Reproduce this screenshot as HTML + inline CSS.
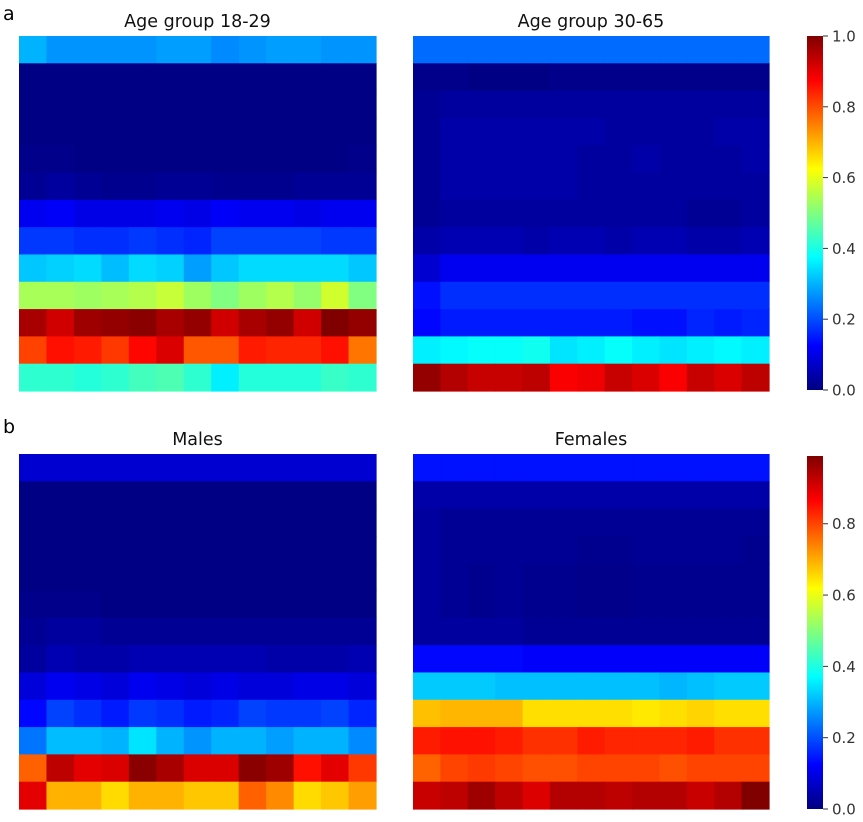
<!DOCTYPE html>
<html><head><meta charset="utf-8"><style>
body{margin:0;background:#fff;}
svg{display:block;font-family:"DejaVu Sans","Liberation Sans",sans-serif;}
</style></head><body>
<svg id="fig" width="863" height="822" viewBox="0 0 863 822" xmlns="http://www.w3.org/2000/svg">
<defs>
<linearGradient id="jet" x1="0" y1="1" x2="0" y2="0">
<stop offset="0" stop-color="#000080"/><stop offset="0.125" stop-color="#0000ff"/><stop offset="0.375" stop-color="#00ffff"/><stop offset="0.625" stop-color="#ffff00"/><stop offset="0.875" stop-color="#ff0000"/><stop offset="1" stop-color="#800000"/>
</linearGradient>
</defs>
<text x="3" y="20" font-size="19" fill="#000">a</text>
<text x="3" y="433" font-size="19" fill="#000">b</text>
</svg>
<script>
const young=[
[0.30,0.27,0.27,0.27,0.27,0.28,0.28,0.26,0.27,0.28,0.28,0.27,0.27],
[0.005,0.005,0.005,0.005,0.005,0.005,0.005,0.005,0.005,0.005,0.005,0.005,0.005],
[0.005,0.005,0.005,0.005,0.005,0.005,0.005,0.005,0.005,0.005,0.005,0.005,0.005],
[0.005,0.005,0.005,0.005,0.005,0.005,0.005,0.005,0.005,0.005,0.005,0.005,0.005],
[0.01,0.01,0.005,0.005,0.005,0.005,0.005,0.005,0.005,0.005,0.005,0.005,0.01],
[0.02,0.03,0.02,0.015,0.015,0.02,0.02,0.015,0.015,0.015,0.02,0.02,0.02],
[0.11,0.12,0.10,0.10,0.10,0.11,0.10,0.12,0.11,0.11,0.10,0.11,0.11],
[0.18,0.18,0.17,0.17,0.18,0.17,0.16,0.19,0.19,0.19,0.19,0.18,0.18],
[0.32,0.33,0.34,0.31,0.34,0.33,0.28,0.32,0.34,0.34,0.34,0.34,0.32],
[0.54,0.54,0.53,0.54,0.55,0.57,0.53,0.50,0.53,0.55,0.52,0.58,0.50],
[0.96,0.92,0.97,0.98,0.99,0.96,0.98,0.92,0.96,0.98,0.92,1.00,0.98],
[0.81,0.86,0.85,0.82,0.87,0.91,0.79,0.79,0.85,0.84,0.84,0.86,0.76],
[0.42,0.42,0.41,0.42,0.44,0.45,0.42,0.36,0.41,0.41,0.41,0.43,0.42]];
const older=[
[0.23,0.23,0.23,0.23,0.23,0.23,0.23,0.23,0.23,0.23,0.23,0.23,0.23],
[0.01,0.01,0.005,0.005,0.005,0.01,0.01,0.01,0.01,0.01,0.01,0.01,0.01],
[0.02,0.03,0.03,0.03,0.03,0.03,0.03,0.03,0.03,0.03,0.03,0.03,0.03],
[0.02,0.04,0.04,0.04,0.04,0.04,0.04,0.03,0.03,0.03,0.03,0.04,0.04],
[0.02,0.04,0.04,0.04,0.04,0.04,0.03,0.03,0.04,0.03,0.03,0.03,0.04],
[0.02,0.04,0.04,0.04,0.04,0.04,0.03,0.03,0.03,0.03,0.03,0.03,0.03],
[0.02,0.03,0.03,0.03,0.03,0.03,0.03,0.03,0.03,0.03,0.02,0.02,0.03],
[0.04,0.05,0.05,0.05,0.04,0.05,0.05,0.04,0.05,0.05,0.04,0.04,0.05],
[0.08,0.11,0.11,0.11,0.11,0.11,0.11,0.11,0.11,0.11,0.11,0.11,0.11],
[0.14,0.17,0.17,0.17,0.17,0.17,0.17,0.17,0.17,0.17,0.17,0.17,0.17],
[0.13,0.15,0.15,0.15,0.15,0.15,0.15,0.15,0.14,0.14,0.16,0.15,0.16],
[0.36,0.37,0.38,0.38,0.39,0.35,0.36,0.38,0.36,0.35,0.36,0.37,0.36],
[0.98,0.95,0.93,0.93,0.94,0.88,0.89,0.93,0.91,0.88,0.93,0.91,0.94]];
const males=[
[0.08,0.08,0.08,0.08,0.08,0.08,0.08,0.08,0.08,0.08,0.08,0.08,0.08],
[0.005,0.005,0.005,0.005,0.005,0.005,0.005,0.005,0.005,0.005,0.005,0.005,0.005],
[0.005,0.005,0.005,0.005,0.005,0.005,0.005,0.005,0.005,0.005,0.005,0.005,0.005],
[0.005,0.005,0.005,0.005,0.005,0.005,0.005,0.005,0.005,0.005,0.005,0.005,0.005],
[0.005,0.005,0.005,0.005,0.005,0.005,0.005,0.005,0.005,0.005,0.005,0.005,0.005],
[0.01,0.01,0.01,0.005,0.005,0.005,0.005,0.005,0.005,0.005,0.005,0.005,0.005],
[0.02,0.03,0.03,0.02,0.02,0.02,0.02,0.02,0.02,0.02,0.02,0.02,0.02],
[0.03,0.05,0.04,0.04,0.05,0.05,0.05,0.05,0.05,0.04,0.04,0.04,0.05],
[0.09,0.11,0.10,0.09,0.11,0.10,0.09,0.10,0.09,0.09,0.10,0.10,0.09],
[0.13,0.19,0.17,0.15,0.18,0.17,0.15,0.16,0.19,0.18,0.18,0.19,0.16],
[0.24,0.31,0.31,0.30,0.35,0.30,0.27,0.30,0.30,0.28,0.30,0.30,0.26],
[0.78,0.94,0.90,0.91,0.99,0.96,0.91,0.91,0.99,0.97,0.86,0.90,0.82],
[0.90,0.70,0.70,0.66,0.70,0.70,0.68,0.68,0.78,0.74,0.66,0.68,0.72]];
const females=[
[0.14,0.14,0.14,0.14,0.14,0.14,0.14,0.14,0.14,0.14,0.14,0.14,0.14],
[0.04,0.04,0.04,0.04,0.04,0.04,0.04,0.04,0.04,0.04,0.04,0.04,0.04],
[0.03,0.02,0.02,0.02,0.02,0.02,0.02,0.02,0.02,0.02,0.02,0.02,0.02],
[0.03,0.02,0.02,0.02,0.02,0.02,0.015,0.015,0.02,0.02,0.02,0.02,0.015],
[0.03,0.02,0.015,0.02,0.015,0.015,0.01,0.01,0.015,0.015,0.015,0.015,0.015],
[0.03,0.02,0.015,0.02,0.015,0.015,0.01,0.01,0.015,0.015,0.015,0.015,0.015],
[0.03,0.03,0.03,0.03,0.02,0.02,0.02,0.02,0.02,0.02,0.02,0.02,0.02],
[0.13,0.13,0.13,0.13,0.12,0.12,0.12,0.12,0.12,0.12,0.12,0.12,0.12],
[0.32,0.32,0.32,0.31,0.31,0.31,0.31,0.31,0.31,0.30,0.31,0.32,0.32],
[0.68,0.69,0.69,0.69,0.65,0.65,0.65,0.65,0.64,0.65,0.66,0.65,0.65],
[0.84,0.85,0.85,0.84,0.82,0.82,0.84,0.83,0.83,0.83,0.84,0.82,0.82],
[0.77,0.80,0.81,0.80,0.79,0.79,0.80,0.80,0.80,0.79,0.80,0.80,0.80],
[0.92,0.93,0.96,0.93,0.90,0.94,0.94,0.93,0.94,0.94,0.92,0.94,0.99]];
const titles=["Age group 18-29","Age group 30-65","Males","Females"];
const ticksA=["0.0","0.2","0.4","0.6","0.8","1.0"];
const tickValsA=[0,0.2,0.4,0.6,0.8,1.0];
const ticksB=["0.0","0.2","0.4","0.6","0.8"];
const tickValsB=[0,0.2,0.4,0.6,0.8];

const NS="http://www.w3.org/2000/svg";
const svg=document.getElementById('fig');
function mk(t,a){const e=document.createElementNS(NS,t);for(const k in a)e.setAttribute(k,a[k]);return e;}
function cl(x){return Math.max(0,Math.min(1,x));}
function jet(v){const r=cl(1.5-Math.abs(4*v-3)),g=cl(1.5-Math.abs(4*v-2)),b=cl(1.5-Math.abs(4*v-1));
return `rgb(${Math.round(r*255)},${Math.round(g*255)},${Math.round(b*255)})`;}
function heat(data,x0,y0,w,h,vmax,name,title){
  const g=mk('g',{});
  
  
  const rows=data.length,cols=data[0].length,cw=w/cols,ch=h/rows;
  data.forEach((row,i)=>row.forEach((v,j)=>{
    const r=mk('rect',{x:x0+j*cw,y:y0+i*ch,width:cw+0.6,height:ch+0.6,fill:jet(v/vmax)});
    
    
    g.appendChild(r);}));
  const t=mk('text',{x:x0+w/2,y:y0-9,'text-anchor':'middle','font-size':'17.5',fill:'#111'});
  
  
  t.textContent=title;g.appendChild(t);
  svg.appendChild(g);
}
function cbar(x,y0,y1,vmax,labels,vals,name){
  const g=mk('g',{});
  
  
  const r=mk('rect',{x:x,y:y0,width:16,height:y1-y0,fill:'url(#jet)'});
  
  
  g.appendChild(r);
  labels.forEach((l,i)=>{const yy=y1-(vals[i]/vmax)*(y1-y0);
    const tk=mk('line',{x1:x+16,x2:x+21,y1:yy,y2:yy,stroke:'#333','stroke-width':1});
    
    
    g.appendChild(tk);
    const t=mk('text',{x:x+25,y:yy+5.5,'font-size':'15',fill:'#333'});
    
    
    t.textContent=l;g.appendChild(t);});
  svg.appendChild(g);
}
heat(young,19,36,357,355,1,'heatmap-age-18-29',titles[0]);
heat(older,413,36,356,355,1,'heatmap-age-30-65',titles[1]);
heat(males,19,454,357,355,1,'heatmap-males',titles[2]);
heat(females,413,454,356,355,0.99,'heatmap-females',titles[3]);
cbar(807,36,390,1,ticksA,tickValsA,'colorbar-a');
cbar(807,456,809,0.99,ticksB,tickValsB,'colorbar-b');
</script>
</body></html>
